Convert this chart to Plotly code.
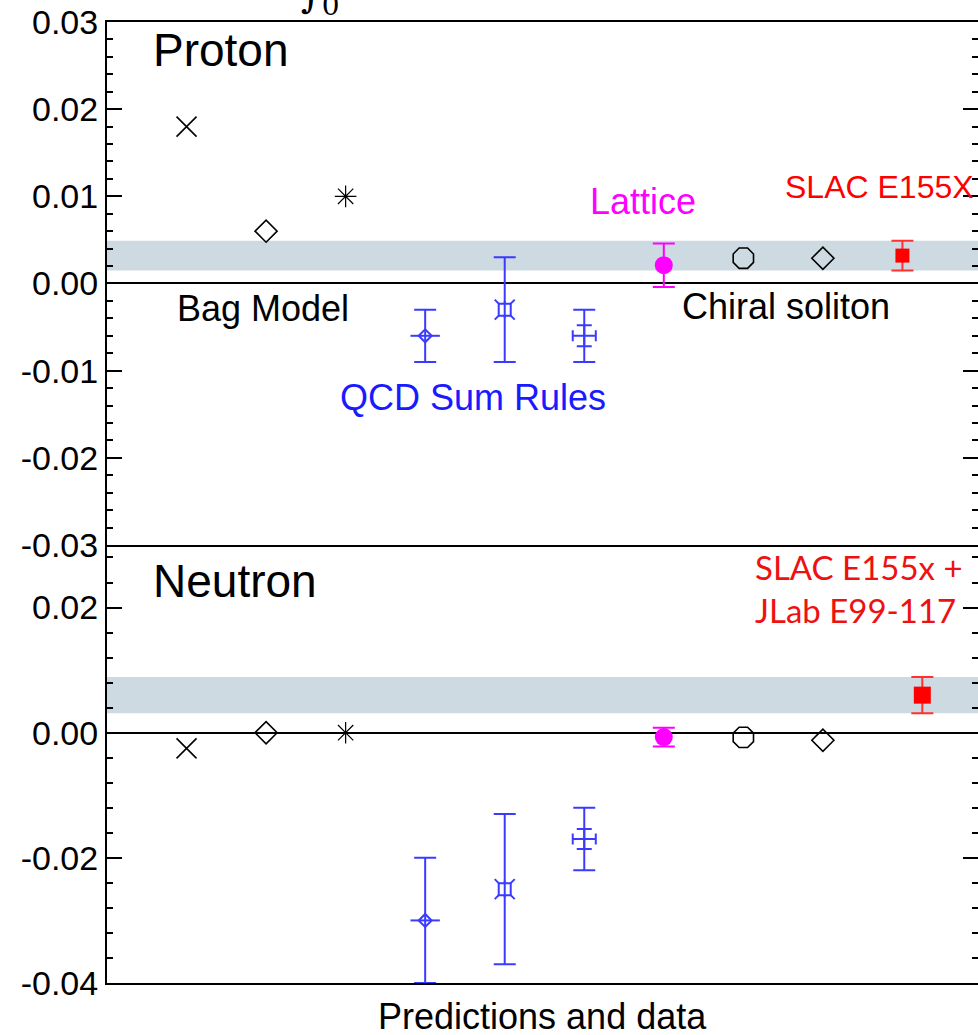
import plotly.graph_objects as go

# ---------------- data ----------------
# x positions (order of predictions / data)
x_bag = [1, 2, 3]
x_qcd = [4, 5, 6]
x_lat = [7]
x_chi = [8, 9]
x_slac_p = [10.0]
x_slac_n = [10.25]

# Proton
p_bag = [0.018, 0.006, 0.010]
p_qcd = [-0.006, -0.003, -0.006]
p_qcd_err = [0.003, 0.006, 0.003]
p_qcd3_inner = [0.0012]
p_lat = [0.0021]
p_lat_err = [0.0025]
p_chi = [0.0029, 0.0029]
p_slac = [0.0032]
p_slac_err = [0.0017]
p_band = [0.0015, 0.0049]

# Neutron
n_bag = [-0.0025, 0.0, 0.0]
n_qcd = [-0.030, -0.025, -0.017]
n_qcd_err = [0.010, 0.012, 0.005]
n_qcd3_inner = [0.0016]
n_lat = [-0.0007]
n_lat_err = [0.0015]
n_chi = [-0.00075, -0.0012]
n_slac = [0.006]
n_slac_err = [0.0029]
n_band = [0.0031, 0.0089]

qcd3_xerr = [0.145]

# tick labels
p_tickvals = [0.03, 0.02, 0.01, 0.0, -0.01, -0.02, -0.03]
p_ticktext = ["0.03", "0.02", "0.01", "0.00", "-0.01", "-0.02", "-0.03"]
n_tickvals = [0.02, 0.0, -0.02, -0.04]
n_ticktext = ["0.02", "0.00", "-0.02", "-0.04"]

BLUE = "#3b3bff"
MAG = "#ff00ff"
RED = "#ff0000"
REDERR = "#ff3030"
BAND = "#cddae2"
FONT = "Liberation Sans, Arial, sans-serif"

fig = go.Figure()

def add_panel(xa, ya, bag, qcd, qcd_err, inner, lat, lat_err, chi, slac, slac_err, xslac, sq_size):
    # Bag model markers
    syms = ["x-thin-open", "diamond-open", "asterisk-open"]
    sizes = [20, 17, 18]
    widths = [1.6, 1.6, 1.2]
    for i in range(3):
        fig.add_trace(go.Scatter(x=[x_bag[i]], y=[bag[i]], mode="markers", xaxis=xa, yaxis=ya,
                                 marker=dict(symbol=syms[i], size=sizes[i], color="black",
                                             line=dict(color="black", width=widths[i]))))
    # QCD sum rules: error bars
    fig.add_trace(go.Scatter(x=x_qcd, y=qcd, mode="markers", xaxis=xa, yaxis=ya,
                             marker=dict(size=1, color=BLUE, opacity=0),
                             error_y=dict(type="data", array=qcd_err, color=BLUE, thickness=2, width=11)))
    # QCD 1 marker
    fig.add_trace(go.Scatter(x=[x_qcd[0]], y=[qcd[0]], mode="markers", xaxis=xa, yaxis=ya,
                             marker=dict(symbol="line-ew-open", size=21, color=BLUE, line=dict(color=BLUE, width=2))))
    fig.add_trace(go.Scatter(x=[x_qcd[0]], y=[qcd[0]], mode="markers", xaxis=xa, yaxis=ya,
                             marker=dict(symbol="diamond-open", size=10, color=BLUE, line=dict(color=BLUE, width=2))))
    # QCD 2 marker
    fig.add_trace(go.Scatter(x=[x_qcd[1]], y=[qcd[1]], mode="markers", xaxis=xa, yaxis=ya,
                             marker=dict(symbol="x-thin-open", size=20, color=BLUE, line=dict(color=BLUE, width=2))))
    fig.add_trace(go.Scatter(x=[x_qcd[1]], y=[qcd[1]], mode="markers", xaxis=xa, yaxis=ya,
                             marker=dict(symbol="square", size=12, color="white", line=dict(color=BLUE, width=2))))
    fig.add_trace(go.Scatter(x=[x_qcd[1]], y=[qcd[1]], mode="markers", xaxis=xa, yaxis=ya,
                             marker=dict(symbol="line-ns-open", size=12, color=BLUE, line=dict(color=BLUE, width=2))))
    # QCD 3 marker
    fig.add_trace(go.Scatter(x=[x_qcd[2]], y=[qcd[2]], mode="markers", xaxis=xa, yaxis=ya,
                             marker=dict(size=1, color=BLUE, opacity=0),
                             error_x=dict(type="data", array=qcd3_xerr, color=BLUE, thickness=2, width=5.5),
                             error_y=dict(type="data", array=inner, color=BLUE, thickness=2, width=7.5)))
    # Lattice
    fig.add_trace(go.Scatter(x=x_lat, y=lat, mode="markers", xaxis=xa, yaxis=ya,
                             marker=dict(symbol="circle", size=18, color=MAG),
                             error_y=dict(type="data", array=lat_err, color=MAG, thickness=2, width=11)))
    # Chiral soliton
    fig.add_trace(go.Scatter(x=[x_chi[0]], y=[chi[0]], mode="markers", xaxis=xa, yaxis=ya,
                             marker=dict(symbol="octagon-open", size=22, color="black", line=dict(color="black", width=1.6))))
    fig.add_trace(go.Scatter(x=[x_chi[1]], y=[chi[1]], mode="markers", xaxis=xa, yaxis=ya,
                             marker=dict(symbol="diamond-open", size=17, color="black", line=dict(color="black", width=1.6))))
    # SLAC
    fig.add_trace(go.Scatter(x=xslac, y=slac, mode="markers", xaxis=xa, yaxis=ya,
                             marker=dict(symbol="square", size=sq_size, color=RED),
                             error_y=dict(type="data", array=slac_err, color=REDERR, thickness=2, width=11)))

add_panel("x", "y", p_bag, p_qcd, p_qcd_err, p_qcd3_inner, p_lat, p_lat_err, p_chi, p_slac, p_slac_err, x_slac_p, 14)
add_panel("x2", "y2", n_bag, n_qcd, n_qcd_err, n_qcd3_inner, n_lat, n_lat_err, n_chi, n_slac, n_slac_err, x_slac_n, 17)

# bands
fig.add_shape(type="rect", xref="x domain", yref="y", x0=0, x1=1, y0=p_band[0], y1=p_band[1],
              fillcolor=BAND, line=dict(width=0), layer="below")
fig.add_shape(type="rect", xref="x2 domain", yref="y2", x0=0, x1=1, y0=n_band[0], y1=n_band[1],
              fillcolor=BAND, line=dict(width=0), layer="below")

SPLIT = 0.4558
yax_common = dict(ticks="inside", ticklen=15, tickwidth=2, tickcolor="black",
                  showline=True, linewidth=2, linecolor="black", showgrid=False,
                  zeroline=True, zerolinecolor="black", zerolinewidth=2,
                  tickmode="array",
                  tickfont=dict(family=FONT, size=34, color="black"))
right_common = dict(ticks="inside", ticklen=15, tickwidth=2, tickcolor="black",
                    showline=False, showgrid=False, zeroline=False, showticklabels=False,
                    side="right", tickmode="array")

def minor(d):
    return dict(ticks="inside", ticklen=6, tickwidth=2, tickcolor="black", showgrid=False,
                tickmode="linear", tick0=0, dtick=d)

fig.update_layout(
    width=978, height=1035,
    margin=dict(l=107, r=0, t=22, b=52),
    plot_bgcolor="white", paper_bgcolor="white",
    showlegend=False,
    xaxis=dict(domain=[0, 1], range=[0, 10.95], anchor="y", showticklabels=False, ticks="",
               showline=True, linewidth=2, linecolor="black", mirror=True, showgrid=False, zeroline=False),
    xaxis2=dict(domain=[0, 1], range=[0, 10.95], anchor="y2", matches="x", showticklabels=False, ticks="",
                showline=True, linewidth=2, linecolor="black", mirror=False, showgrid=False, zeroline=False),
    yaxis=dict(domain=[SPLIT, 1], range=[-0.03, 0.03], anchor="x",
               tickvals=p_tickvals, ticktext=p_ticktext, minor=minor(0.002), **yax_common),
    yaxis2=dict(domain=[0, SPLIT], range=[-0.04, 0.03], anchor="x2",
                tickvals=n_tickvals, ticktext=n_ticktext, minor=minor(0.004), **yax_common),
    yaxis3=dict(overlaying="y", anchor="x", range=[-0.03, 0.03], tickvals=p_tickvals,
                minor=minor(0.002), **right_common),
    yaxis4=dict(overlaying="y2", anchor="x2", range=[-0.04, 0.03], tickvals=n_tickvals,
                minor=minor(0.004), **right_common),
)

# dummy traces so right-side axes render
fig.add_trace(go.Scatter(x=[None], y=[None], xaxis="x", yaxis="y3", showlegend=False))
fig.add_trace(go.Scatter(x=[None], y=[None], xaxis="x2", yaxis="y4", showlegend=False))

def txt(text, x, y, xr, yr, size, color="black", xanchor="left", family=FONT, align="left"):
    fig.add_annotation(text=text, x=x, y=y, xref=xr, yref=yr, showarrow=False,
                       xanchor=xanchor, yanchor="middle", align=align,
                       font=dict(family=family, size=size, color=color))

txt("Proton", 0.55, 0.0268, "x", "y", 46)
txt("Bag Model", 0.86, -0.0029, "x", "y", 36)
txt("QCD Sum Rules", 2.91, -0.0131, "x", "y", 36, color="#1a1aff")
txt("Lattice", 6.05, 0.0094, "x", "y", 36, color=MAG)
txt("Chiral soliton", 7.2, -0.0026, "x", "y", 36)
txt("SLAC E155X", 10.92, 0.0111, "x", "y", 32, color=RED, xanchor="right")
txt("Neutron", 0.55, 0.0243, "x2", "y2", 46)
txt("SLAC E155x +<br>JLab E99-117", 8.12, 0.0230, "x2", "y2", 33, color="#ee1111", family="Lato, sans-serif")

fig.add_annotation(text="Predictions and data", x=0.5, y=0, xref="paper", yref="paper",
                   yshift=-33, showarrow=False, xanchor="center", yanchor="middle",
                   font=dict(family=FONT, size=36, color="black"))
# cut-off title fragment at the very top
fig.add_annotation(text="∫<sub>0</sub>", x=(320 - 107) / 871, y=1, xref="paper", yref="paper",
                   yshift=-2, showarrow=False, xanchor="center", yanchor="bottom",
                   font=dict(family="DejaVu Serif, serif", size=40, color="black"))

fig.write_html("out.html")
